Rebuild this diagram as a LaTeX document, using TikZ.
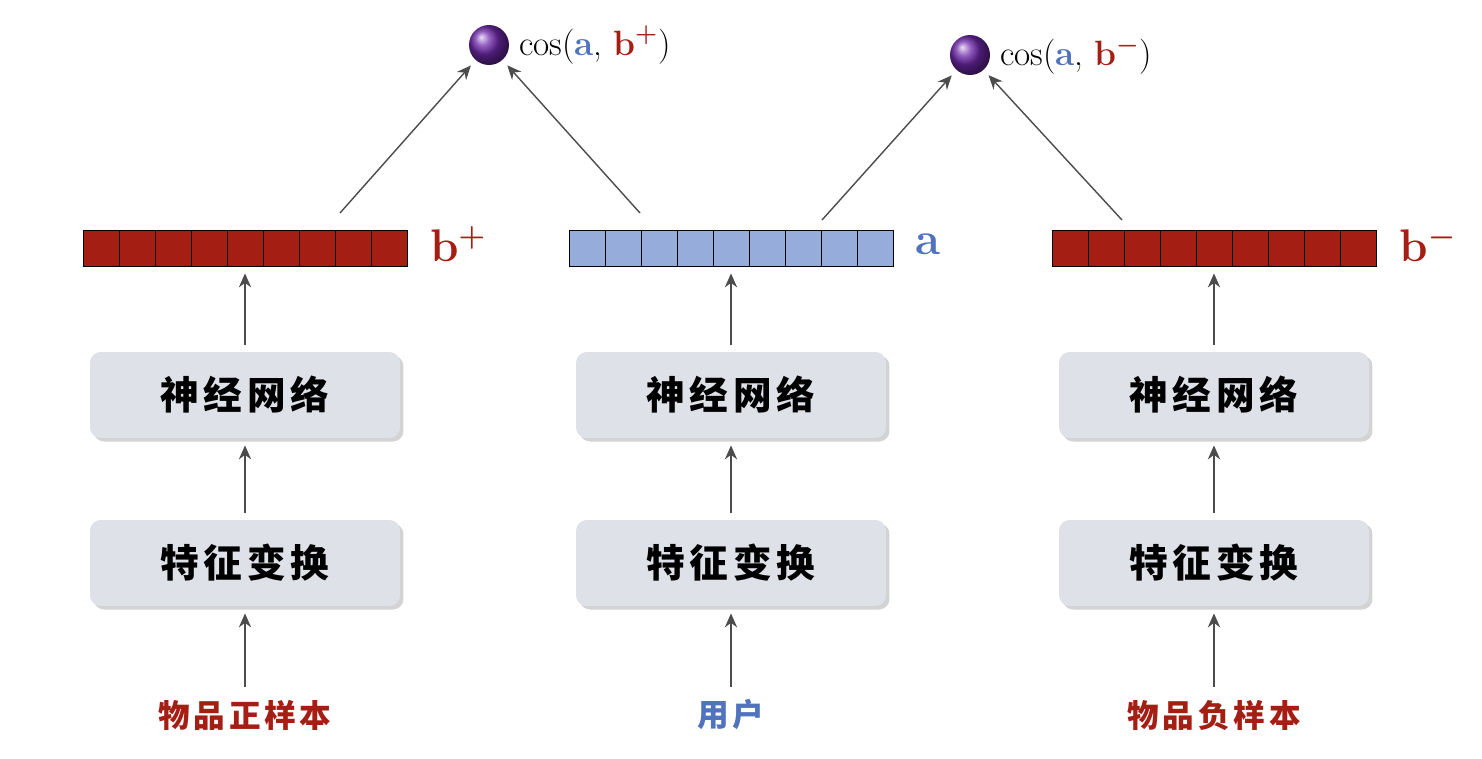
\documentclass[tikz,border=0pt]{standalone}
\usepackage{amsmath, bm}
\usepackage{fontspec}
\newfontfamily\cjk[LetterSpace=12]{Noto Sans CJK SC}
\usetikzlibrary{arrows.meta, positioning, shadows}
\definecolor{itemred}{RGB}{165,30,20}
\definecolor{userblue}{RGB}{80,115,190}
\definecolor{cellblue}{RGB}{150,172,218}
\definecolor{boxgray}{RGB}{222,226,232}
\definecolor{ballpurple}{RGB}{110,40,170}

\begin{document}
\begin{tikzpicture}[x=0.02cm, y=-0.02cm,
            block/.style={
                rectangle,
                rounded corners=6pt,
                fill=boxgray,
                drop shadow={opacity=0.35, shadow xshift=2pt, shadow yshift=-2pt},
                minimum width=6.2cm,
                minimum height=1.72cm,
                align=center,
                font=\cjk\bfseries\fontsize{22}{26}\selectfont
            },
            cell/.style={
                rectangle,
                draw=black,
                minimum width=0.72cm,
                minimum height=0.72cm,
                inner sep=0pt
            },
            ball/.style={
                circle,
                minimum size=0.8cm,
                inner sep=0pt,
                ball color=ballpurple
            },
            arrow/.style={
                -{Stealth[length=8pt, width=7pt]},
                thick,
                draw=black!70,
                shorten <=4pt,
                shorten >=4pt
            }
        ]
        \useasboundingbox (0,0) rectangle (1482,758);

        % Towers: x position, fill colour, input label, colour, vector label
        \foreach \x/\fc/\inp/\ic/\vname in {245/itemred/物品正样本/itemred/bp, 731/cellblue/用户/userblue/a, 1214/itemred/物品负样本/itemred/bm}{
            \node (in-\vname) [font=\cjk\bfseries\fontsize{18}{22}\selectfont, text=\ic] at (\x,715) {\inp};
            \node (feat-\vname) [block] at (\x,563) {特征变换};
            \node (net-\vname) [block] at (\x,395) {神经网络};
            \foreach \i in {0,...,8}
                \node (vec-\vname-\i) [cell, fill=\fc] at (\x-144+\i*36,248) {};
            \draw[arrow] (in-\vname) -- (feat-\vname);
            \draw[arrow] (feat-\vname) -- (net-\vname);
            \draw[arrow] (net-\vname) -- (vec-\vname-4);
        }

        % Vector labels
        \node [text=itemred, font=\bfseries\fontsize{26}{30}\selectfont] at (458,244) {b$^{\bm{+}}$};
        \node [text=userblue, font=\bfseries\fontsize{26}{30}\selectfont] at (928,244) {a};
        \node [text=itemred, font=\bfseries\fontsize{26}{30}\selectfont] at (1428,244) {b$^{\bm{-}}$};

        % Similarity balls
        \node (simpos) [ball] at (489,45) {};
        \node (simneg) [ball] at (970,55) {};
        \node [right=2pt of simpos, font=\fontsize{20}{24}\selectfont]
            {cos({\color{userblue}\bfseries a}, {\color{itemred}\bfseries b$^{\bm{+}}$})};
        \node [right=2pt of simneg, font=\fontsize{20}{24}\selectfont]
            {cos({\color{userblue}\bfseries a}, {\color{itemred}\bfseries b$^{\bm{-}}$})};

        % Arrows into the cosine nodes
        \coordinate (tp) at (340,213);
        \coordinate (ta1) at (640,213);
        \coordinate (ta2) at (822,220);
        \coordinate (tm) at (1122,220);
        \draw[arrow, shorten <=0pt] (tp) -- (simpos);
        \draw[arrow, shorten <=0pt] (ta1) -- (simpos);
        \draw[arrow, shorten <=0pt] (ta2) -- (simneg);
        \draw[arrow, shorten <=0pt] (tm) -- (simneg);
        \end{tikzpicture}
\end{document}
